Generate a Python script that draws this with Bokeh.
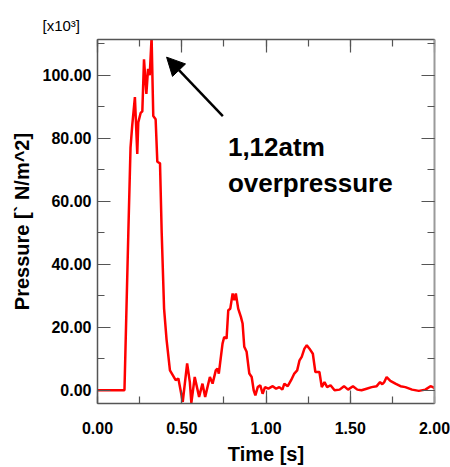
from bokeh.plotting import figure
from bokeh.models import (Range1d, LinearAxis, NumeralTickFormatter, Label, Arrow,
                          NormalHead, SingleIntervalTicker, Title)
from bokeh.embed import file_html
from bokeh.resources import INLINE

# Time [s]
time_s = [0.0, 0.16, 0.183, 0.196, 0.206, 0.222, 0.236, 0.242, 0.256, 0.266, 0.276,
          0.29, 0.30, 0.31, 0.321, 0.331, 0.345, 0.355, 0.371, 0.381, 0.395, 0.41,
          0.43, 0.464, 0.48, 0.506, 0.532, 0.548, 0.557, 0.577, 0.603, 0.623, 0.639,
          0.667, 0.683, 0.702, 0.712, 0.72, 0.742, 0.752, 0.766, 0.776, 0.788, 0.802,
          0.812, 0.821, 0.835, 0.851, 0.861, 0.871, 0.885, 0.901, 0.915, 0.927, 0.937,
          0.951, 0.966, 0.980, 0.994, 1.014, 1.040, 1.060, 1.079, 1.097, 1.109, 1.129,
          1.149, 1.168, 1.185, 1.199, 1.212, 1.228, 1.242, 1.258, 1.278, 1.293, 1.317,
          1.331, 1.347, 1.363, 1.383, 1.407, 1.437, 1.463, 1.487, 1.516, 1.542, 1.567,
          1.597, 1.627, 1.657, 1.677, 1.69, 1.702, 1.716, 1.738, 1.768, 1.798, 1.827,
          1.867, 1.907, 1.946, 1.976, 1.994, 2.0]
# Pressure [x10^3 N/m^2]
pressure_k = [0, 0, 50, 77, 84, 93, 75, 85, 88, 88.5, 105,
              94, 102, 100, 112, 87, 86, 72.5, 72, 50, 26, 16,
              6.3, 3.2, 3.7, -3.7, 8.5, 2.6, -4, 4.2, -2.1, 2.1, -2.1,
              4.2, 2.1, 6.3, 6.9, 5.3, 14.8, 16.9, 16.4, 25.4, 25.9, 30.7,
              28.6, 30.7, 25.9, 23.3, 21.2, 13.8, 12.2, 5.3, 4.2, 0, -1.6,
              1.0, 1.6, -1.1, 1.0, 0.5, 1.3, 0.5, 1.0, 0.2, 2.1, 1.3,
              3.2, 5.3, 6.3, 9.5, 10.6, 13.2, 14.3, 13.2, 11.6, 5.8, 5.8,
              1.0, 2.6, 1.0, 1.6, 0, 0.2, 1.3, 0.2, 1.3, 0.2, 0,
              0.5, 1.0, 1.3, 2.6, 1.9, 2.6, 4.2, 3.0, 2.1, 1.3, 1.0,
              0.2, -0.2, 0.2, 1.3, 0.9, 0.5]

x_title = "Time [s]"
y_title = "Pressure [` N/m^2]"
scale_text = "[x10\u00b3]"
note_line1 = "1,12atm"
note_line2 = "overpressure"

FONT = "Liberation Sans"
AX = "#555555"

p = figure(width=450, height=467, output_backend="svg", toolbar_location=None,
           x_range=Range1d(0, 2.0), y_range=Range1d(-4.2, 111.3),
           x_axis_location=None, y_axis_location=None)
p.min_border_left = 97
p.min_border_right = 16
p.min_border_top = 39
p.min_border_bottom = 64
p.outline_line_color = None
p.xgrid.visible = False
p.ygrid.visible = False
p.background_fill_color = "white"
p.border_fill_color = "white"


def style(ax, labels):
    ax.axis_line_color = AX
    ax.axis_line_width = 1.5
    ax.major_tick_line_color = AX
    ax.minor_tick_line_color = AX
    ax.major_tick_line_width = 1.2
    ax.minor_tick_line_width = 1.2
    ax.major_tick_in = 13
    ax.major_tick_out = 0
    ax.minor_tick_in = 7
    ax.minor_tick_out = 0
    ax.major_label_text_font = FONT
    ax.major_label_text_font_style = "bold"
    ax.major_label_text_font_size = "16px"
    ax.major_label_text_color = "black" if labels else None
    ax.axis_label_text_color = "black"
    ax.formatter = NumeralTickFormatter(format="0.00")


xb = LinearAxis(ticker=SingleIntervalTicker(interval=0.5, num_minor_ticks=2))
style(xb, True)
xb.axis_label = x_title
xb.axis_label_text_font = FONT
xb.axis_label_text_font_style = "bold"
xb.axis_label_text_font_size = "20px"
xb.major_label_standoff = 18
xb.axis_label_standoff = 6
p.add_layout(xb, "below")

xa = LinearAxis(ticker=SingleIntervalTicker(interval=0.5, num_minor_ticks=2))
style(xa, False)
xa.major_label_text_font_size = "0px"
xa.major_label_standoff = 0
p.add_layout(xa, "above")

yl = LinearAxis(ticker=SingleIntervalTicker(interval=20, num_minor_ticks=2))
style(yl, True)
yl.axis_label = y_title
yl.axis_label_text_font = FONT
yl.axis_label_text_font_style = "bold"
yl.axis_label_text_font_size = "20px"
yl.major_label_standoff = 6
yl.axis_label_standoff = 7
p.add_layout(yl, "left")

yr = LinearAxis(ticker=SingleIntervalTicker(interval=20, num_minor_ticks=2))
style(yr, False)
yr.axis_line_color = "#9a9a9a"
yr.axis_line_width = 2
yr.major_label_text_font_size = "0px"
p.add_layout(yr, "right")

p.add_layout(Title(text=scale_text, align="left", offset=-55, standoff=12,
                   text_font=FONT, text_font_size="15px",
                   text_font_style="normal", text_color="black"), "above")

p.line(time_s, pressure_k, line_color="#ff0000", line_width=2.5)

p.add_layout(Arrow(end=NormalHead(size=18, fill_color="black", line_color="black"),
                   x_start=0.744, y_start=87, x_end=0.41, y_end=105.7,
                   line_color="black", line_width=2.5))

p.add_layout(Label(x=0.774, y=77.2, text=note_line1, text_font=FONT,
                   text_font_style="bold", text_font_size="26px",
                   text_color="black", text_baseline="alphabetic"))
p.add_layout(Label(x=0.774, y=65.8, text=note_line2, text_font=FONT,
                   text_font_style="bold", text_font_size="26px",
                   text_color="black", text_baseline="alphabetic"))

open("out.html", "w").write(file_html(p, INLINE))
